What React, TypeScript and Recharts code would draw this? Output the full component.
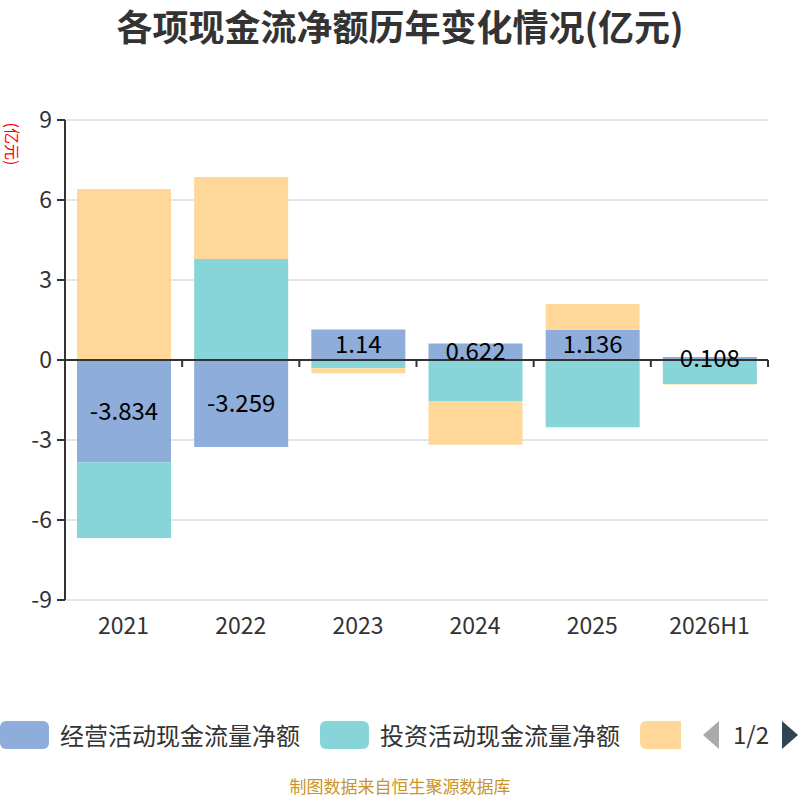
import { BarChart, Bar, XAxis, YAxis, CartesianGrid, ReferenceLine, LabelList } from 'recharts';

const years = ['2021', '2022', '2023', '2024', '2025', '2026H1'];
const operating = [-3.834, -3.259, 1.14, 0.622, 1.136, 0.108];
const investing = [-2.84, 3.79, -0.31, -1.54, -2.52, -0.9];
const financing = [6.41, 3.07, -0.19, -1.64, 0.96, -0.02];
const yTicks = [-9, -6, -3, 0, 3, 6, 9];

const seriesNames = ['经营活动现金流量净额', '投资活动现金流量净额', '筹资活动现金流量净额'];
const colors = ['#8eaddb', '#88d5d9', '#ffd899'];

const data = years.map((year, i) => ({
  year,
  op: operating[i],
  inv: investing[i],
  fin: financing[i],
}));

const FONT = '"Noto Sans CJK SC", "Noto Sans", sans-serif';

// zero line with small ticks at category boundaries
const ZeroLine = (props: any) => {
  const { x1, x2, y1 } = props;
  const n = years.length;
  const step = (x2 - x1) / n;
  return (
    <g>
      <line x1={x1} x2={x2} y1={y1} y2={y1} stroke="#333" strokeWidth={2} />
      {years.map((_, i) => (
        <line key={i} x1={x1 + step * (i + 1)} x2={x1 + step * (i + 1)} y1={y1} y2={y1 + 7} stroke="#333" strokeWidth={2} />
      ))}
    </g>
  );
};

export default function App() {
  return (
    <div style={{ position: 'absolute', left: 0, top: 0, width: 800, height: 800, background: '#fff', fontFamily: FONT, overflow: 'hidden' }}>
      <div style={{ position: 'absolute', top: 0, left: 0, width: 800, textAlign: 'center', fontSize: 36, fontWeight: 'bold', color: '#333', lineHeight: '50px' }}>
        各项现金流净额历年变化情况(亿元)
      </div>
      <div style={{ position: 'absolute', left: -16, top: 135, width: 58, height: 18, lineHeight: '18px', fontSize: 16, color: '#ff0000', transform: 'rotate(90deg)', textAlign: 'center' }}>
        (亿元)
      </div>

      <div style={{ position: 'absolute', left: 0, top: 0 }}>
        <BarChart width={800} height={680} data={data} stackOffset="sign" barSize={94} margin={{ top: 120, right: 32, left: 5, bottom: 40 }}>
          <CartesianGrid vertical={false} stroke="#cccccc" />
          <XAxis
            dataKey="year"
            axisLine={false}
            tickLine={false}
            tickSize={0}
            tickMargin={18}
            height={40}
            tick={{ fontSize: 23, fill: '#333', fontFamily: FONT }}
          />
          <YAxis
            domain={[-9, 9]}
            ticks={yTicks}
            width={60}
            axisLine={{ stroke: '#333', strokeWidth: 2 }}
            tickLine={{ stroke: '#333', strokeWidth: 2 }}
            tickSize={8}
            tickMargin={5}
            tick={{ fontSize: 23, fill: '#333', fontFamily: FONT }}
          />
          <Bar dataKey="op" stackId="a" fill={colors[0]} isAnimationActive={false}>
            <LabelList dataKey="op" position="center" fill="#000" fontSize={24} fontFamily={FONT} />
          </Bar>
          <Bar dataKey="inv" stackId="a" fill={colors[1]} isAnimationActive={false} />
          <Bar dataKey="fin" stackId="a" fill={colors[2]} isAnimationActive={false} />
          <ReferenceLine y={0} shape={<ZeroLine />} />
        </BarChart>
      </div>

      {/* legend, page 1 of 2 */}
      <div style={{ position: 'absolute', top: 717, left: 0, width: 800, height: 36, whiteSpace: 'nowrap' }}>
        {seriesNames.slice(0, 2).map((name, i) => (
          <div key={name} style={{ position: 'absolute', left: i * 320, top: 0, height: 36, display: 'flex', alignItems: 'center' }}>
            <div style={{ width: 49, height: 28, borderRadius: 6, background: colors[i] }} />
            <span style={{ marginLeft: 11, fontSize: 24, lineHeight: '36px', color: '#333' }}>{name}</span>
          </div>
        ))}
        <div style={{ position: 'absolute', left: 640, top: 4, width: 41, height: 28, borderRadius: '6px 0 0 6px', background: colors[2] }} />
        <svg style={{ position: 'absolute', left: 700, top: 0 }} width={100} height={36}>
          <polygon points="3,18 19,4 19,32" fill="#aaaaaa" />
          <text x={51} y={27} textAnchor="middle" fontSize={24} fill="#333" fontFamily={FONT}>1/2</text>
          <polygon points="98,18 82,4 82,32" fill="#2f4554" />
        </svg>
      </div>

      <div style={{ position: 'absolute', top: 776, left: 0, width: 800, textAlign: 'center', fontSize: 17, lineHeight: '20px', color: '#c8952a' }}>
        制图数据来自恒生聚源数据库
      </div>
    </div>
  );
}
